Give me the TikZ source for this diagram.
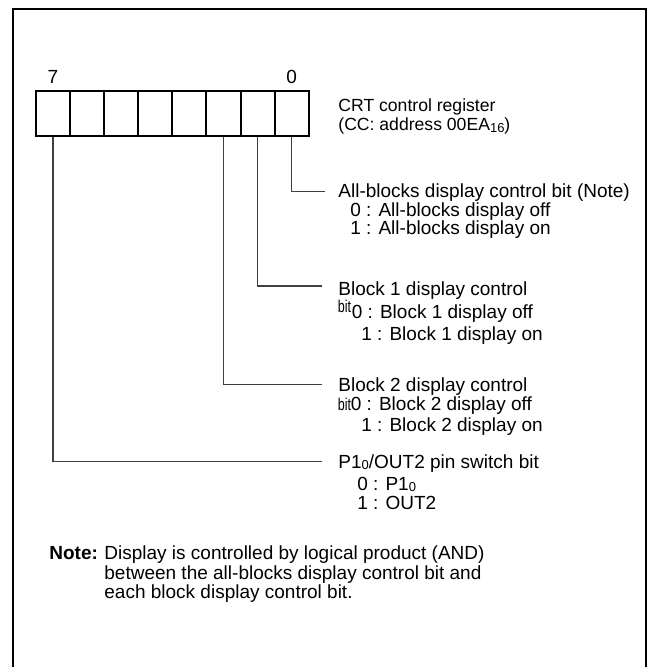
\documentclass[tikz,border=0pt]{standalone}
\usepackage{fontspec}
\setmainfont{Liberation Sans}
\usetikzlibrary{positioning}

\newcommand{\subnum}[1]{{\fontsize{6.5}{7}\selectfont\raisebox{-0.7pt}{#1}}}
\newcommand{\bitword}{\scalebox{0.66}[0.9]{bit}}

\begin{document}
\begin{tikzpicture}[x=0.5pt, y=-0.5pt, font=\fontsize{9.5}{11}\selectfont,
  cell/.style={draw, line width=1pt, minimum width=17.05pt, minimum height=22.65pt, inner sep=0pt},
  lead/.style={draw=black!75, line width=0.55pt},
  txt/.style={anchor=base west, inner sep=0pt},
  regtxt/.style={txt, font=\fontsize{8.8}{10}\selectfont},
  bitnum/.style={anchor=base, inner sep=0pt}]
\useasboundingbox (0,0) rectangle (653,667);
\draw[line width=1pt] (12.5,667) -- (12.5,9.3) -- (645.5,9.3) -- (645.5,667);

% register, bit 7 on the left
\foreach \i in {0,...,7}
  \node[cell] (b\i) at ({291.65-34.1*\i},113.4) {};
\node[bitnum] (n7) at ([yshift=3pt]b7.north) {7};
\node[bitnum] (n0) at ([yshift=3pt]b0.north) {0};
\node[regtxt] (reg1) at (338,112) {CRT control register};
\node[regtxt] (reg2) at (338,131) {(CC: address 00EA\subnum{16})};

% leader ends
\coordinate (e0) at (325,191.7);
\coordinate (e1) at (322,286);
\coordinate (e2) at (322,384.3);
\coordinate (e7) at (322,461.3);
\draw[lead] (b0.south) |- (e0);
\draw[lead] (b1.south) |- (e1);
\draw[lead] (b2.south) |- (e2);
\draw[lead] (b7.south) |- (e7);

% bit 0
\node[txt] (a0) at (338,198) {All-blocks display control bit (Note)};
\node[txt] (a1) at (350,216.5) {0 : All-blocks display off};
\node[txt] (a2) at (350,235) {1 : All-blocks display on};
% bit 1
\node[txt] (k0) at (338,295.5) {Block 1 display control};
\node[txt] (kb) at (337.5,313) {\bitword};
\node[txt] (k1) at (351.5,319) {0 : Block 1 display off};
\node[txt] (k2) at (361,340) {1 : Block 1 display on};
% bit 2
\node[txt] (m0) at (338,391.7) {Block 2 display control};
\node[txt] (mb) at (337.5,410) {\bitword};
\node[txt] (m1) at (350.5,410) {0 : Block 2 display off};
\node[txt] (m2) at (361,431.7) {1 : Block 2 display on};
% bit 7
\node[txt] (p0) at (338,468) {P1\subnum{0}/OUT2 pin switch bit};
\node[txt] (p1) at (357,490) {0 : P1\subnum{0}};
\node[txt] (p2) at (357,509) {1 : OUT2};

% note
\node[txt] (nt) at (49,559) {\textbf{Note:}};
\node[txt] (nt1) at (104,559) {Display is controlled by logical product (AND)};
\node[txt] (nt2) at (104,579) {between the all-blocks display control bit and};
\node[txt] (nt3) at (104,598) {each block display control bit.};
\end{tikzpicture}
\end{document}
